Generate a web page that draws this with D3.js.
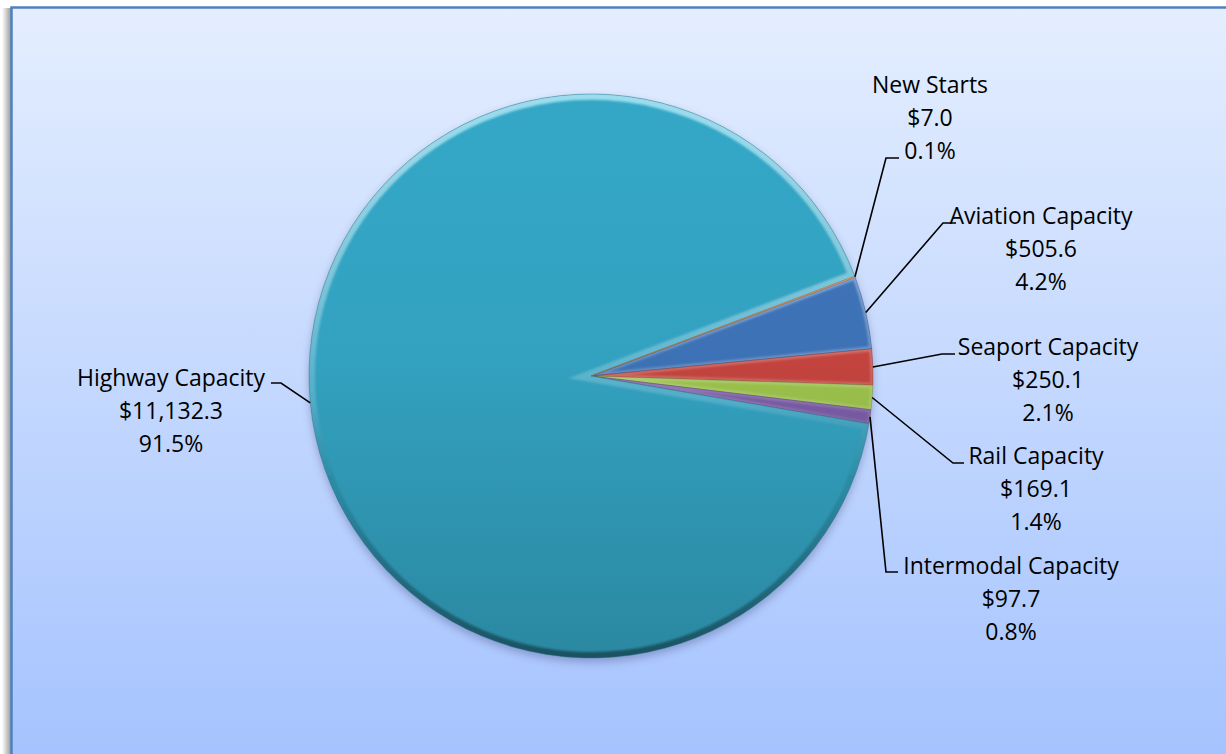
<!DOCTYPE html>
<html>
<head>
<meta charset="utf-8">
<script src="https://cdn.jsdelivr.net/npm/d3@7"></script>
<style>
  html, body { margin: 0; padding: 0; background: #ffffff; overflow: hidden; }
  svg { display: block; overflow: hidden; }
  text { font-family: "Open Sans", "Noto Sans", sans-serif; fill: #000; }
</style>
</head>
<body>
<svg id="chart" width="1226" height="754" viewBox="0 0 1226 754"></svg>
<script>
// Transportation capacity program funding (millions of dollars)
const categories = ["Aviation Capacity", "Seaport Capacity", "Rail Capacity",
                    "Intermodal Capacity", "Highway Capacity", "New Starts"];
const values = [505.6, 250.1, 169.1, 97.7, 11132.3, 7.0];
const sliceColors = ["#3d72b6", "#c4443e", "#9cc24c", "#7a5ca6", "#33a2c1", "#f08a3c"];

// Label placement: elbow of leader, end of leader, label centre x, first-line y
const labelLayout = {
  "Aviation Capacity":   { elbow: [943, 223], end: [956, 223], cx: 1041, y: 215 },
  "Seaport Capacity":    { elbow: [942, 354], end: [955, 354], cx: 1048, y: 346 },
  "Rail Capacity":       { elbow: [953, 463], end: [964, 463], cx: 1036, y: 455 },
  "Intermodal Capacity": { elbow: [886, 572], end: [898, 572], cx: 1011, y: 565 },
  "Highway Capacity":    { elbow: [281, 383], end: [271, 383], cx: 171,  y: 377 },
  "New Starts":          { elbow: [886, 158], end: [899, 158], cx: 930,  y: 84 }
};

const W = 1226, H = 754;
const cx = 591, cy = 376, R = 282;
const lineGap = 33;
const startDeg = 69.5;

const svg = d3.select("#chart");
const defs = svg.append("defs");

// Background gradient
const bg = defs.append("linearGradient").attr("id", "bg")
  .attr("gradientUnits", "userSpaceOnUse")
  .attr("x1", 0).attr("y1", 7).attr("x2", 0).attr("y2", H);
bg.append("stop").attr("offset", 0).attr("stop-color", "#e4eefe");
bg.append("stop").attr("offset", 1).attr("stop-color", "#a5c3fe");

// Soft shadow left of the frame
const sh = defs.append("linearGradient").attr("id", "frameShadow")
  .attr("x1", 0).attr("y1", 0).attr("x2", 1).attr("y2", 0);
sh.append("stop").attr("offset", 0).attr("stop-color", "#ffffff");
sh.append("stop").attr("offset", 1).attr("stop-color", "#9a9a9a");

function blurFilter(id, sd) {
  defs.append("filter").attr("id", id)
    .attr("x", "-20%").attr("y", "-20%").attr("width", "140%").attr("height", "140%")
    .append("feGaussianBlur").attr("stdDeviation", sd);
}
blurFilter("blur1", 1.3);
blurFilter("blur4", 4);

// Frame: fill, then only the top and left border lines
svg.append("rect").attr("x", 2).attr("y", 8).attr("width", 9).attr("height", H)
  .attr("fill", "url(#frameShadow)");
svg.append("rect").attr("x", 11.5).attr("y", 7.5).attr("width", W).attr("height", H)
  .attr("fill", "url(#bg)");
svg.append("path").attr("d", `M11.5,${H + 5}V7.5H${W + 5}`)
  .attr("fill", "none").attr("stroke", "#4f81bd").attr("stroke-width", 2.5);

// Per-slice vertical shading gradients (light at top, dark at bottom), pie-local coords
sliceColors.forEach((c, i) => {
  const base = d3.color(c);
  const g = defs.append("linearGradient").attr("id", "fill" + i)
    .attr("gradientUnits", "userSpaceOnUse")
    .attr("x1", 0).attr("y1", -R).attr("x2", 0).attr("y2", R);
  g.append("stop").attr("offset", 0).attr("stop-color", base.brighter(0.08));
  g.append("stop").attr("offset", 0.45).attr("stop-color", base);
  g.append("stop").attr("offset", 1).attr("stop-color", base.darker(0.5));
});

// Bevel stroke: highlight on upper edges, shade on lower edges
const bev = defs.append("linearGradient").attr("id", "bevel")
  .attr("gradientUnits", "userSpaceOnUse")
  .attr("x1", 0).attr("y1", -R).attr("x2", 0).attr("y2", R);
bev.append("stop").attr("offset", 0).attr("stop-color", "#c8f4ff").attr("stop-opacity", 0.7);
bev.append("stop").attr("offset", 0.35).attr("stop-color", "#ffffff").attr("stop-opacity", 0.35);
bev.append("stop").attr("offset", 0.55).attr("stop-color", "#ffffff").attr("stop-opacity", 0.15);
bev.append("stop").attr("offset", 0.7).attr("stop-color", "#000000").attr("stop-opacity", 0.08);
bev.append("stop").attr("offset", 1).attr("stop-color", "#000000").attr("stop-opacity", 0.4);

const total = d3.sum(values);
const slices = categories.map((name, i) => ({ name, value: values[i], color: i }));

const pie = d3.pie().value(d => d.value).sort(null)
  .startAngle(startDeg * Math.PI / 180)
  .endAngle((startDeg + 360) * Math.PI / 180);
const arcs = pie(slices);
const arc = d3.arc().innerRadius(0).outerRadius(R);

const g = svg.append("g").attr("transform", `translate(${cx},${cy})`);

// Drop shadow beneath the pie
g.append("circle").attr("cx", 0).attr("cy", 4).attr("r", R)
  .attr("fill", "#3a3a70").attr("opacity", 0.35).attr("filter", "url(#blur4)");

arcs.forEach((a, i) => {
  const id = "clip" + i;
  defs.append("clipPath").attr("id", id)
    .append("path").attr("d", arc(a));

  g.append("path").attr("d", arc(a))
    .attr("fill", `url(#fill${a.data.color})`);

  // bevel, kept inside the slice
  g.append("g").attr("clip-path", `url(#${id})`)
    .append("path").attr("d", arc(a))
    .attr("fill", "none").attr("stroke", "url(#bevel)")
    .attr("stroke-width", a.data.value / total > 0.5 ? 12 : 5)
    .attr("filter", "url(#blur1)");

  g.append("path").attr("d", arc(a))
    .attr("fill", "none").attr("stroke", d3.color(sliceColors[a.data.color]).darker(1))
    .attr("stroke-opacity", 0.55).attr("stroke-width", 0.8);
});

// Leader lines and labels
const fmtVal = d3.format(",.1f");
const fmtPct = d3.format(".1%");

arcs.forEach(a => {
  const L = labelLayout[a.data.name];
  const mid = (a.startAngle + a.endAngle) / 2;
  const p0 = [cx + R * Math.sin(mid), cy - R * Math.cos(mid)];
  svg.append("path")
    .attr("d", d3.line()([p0, L.elbow, L.end]))
    .attr("fill", "none").attr("stroke", "#000").attr("stroke-width", 1.6);

  const lines = [a.data.name, "$" + fmtVal(a.data.value), fmtPct(a.data.value / total)];
  const t = svg.append("text").attr("text-anchor", "middle").attr("font-size", 23);
  lines.forEach((s, k) => {
    t.append("tspan").attr("x", L.cx).attr("y", L.y + k * lineGap)
      .attr("dominant-baseline", "central").text(s);
  });
});
</script>
</body>
</html>
